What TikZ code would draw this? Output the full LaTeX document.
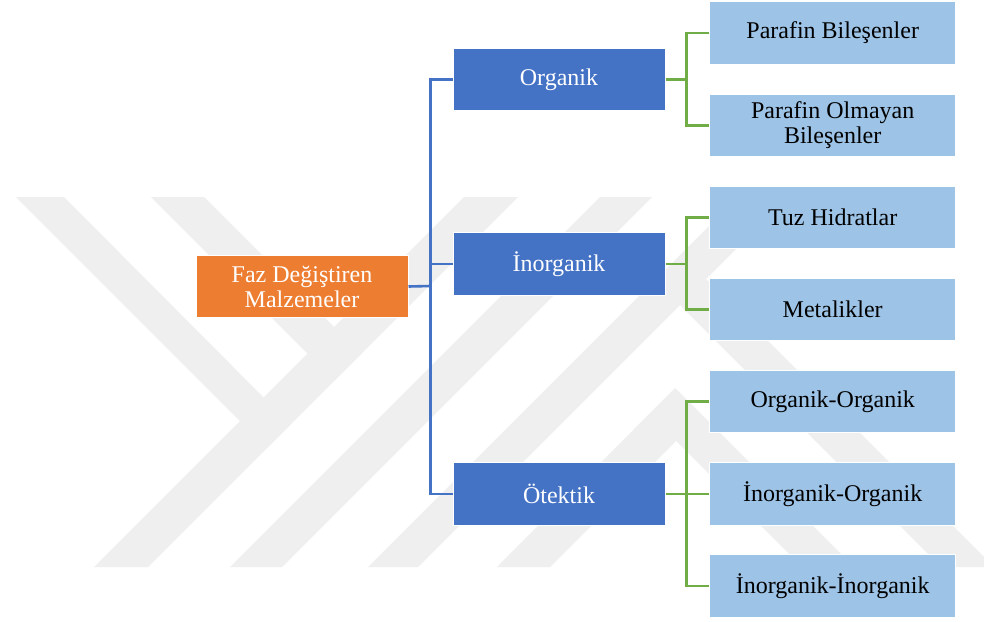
\documentclass[tikz,border=0pt]{standalone}
\usepackage{fontspec}
\setmainfont{Liberation Serif}
\usetikzlibrary{calc}
\definecolor{fdmorange}{HTML}{ED7D31}
\definecolor{grpblue}{HTML}{4472C4}
\definecolor{subblue}{HTML}{9DC3E6}
\definecolor{linkgreen}{HTML}{70AD47}
\definecolor{wmgray}{HTML}{EFEFEF}
\tikzset{
	box/.style={draw=white, line width=1pt, inner sep=0pt, align=center, minimum height=62.5pt, font=\fontsize{24}{25}\selectfont},
	mainbox/.style={box, fill=fdmorange, text=white, minimum width=212pt},
	grpbox/.style={box, fill=grpblue, text=white, minimum width=212pt},
	subbox/.style={box, fill=subblue, text=black, minimum width=245.5pt},
	bluelink/.style={grpblue, line width=2.6pt},
	greenlink/.style={linkgreen, line width=2.6pt}
}

\begin{document}
\begin{tikzpicture}[x=1pt, y=-1pt]
		%%%%% START %%%%%
		\useasboundingbox (0, 0) rectangle (984, 621);
		\fill[white] (0, 0) rectangle (984, 621);
		
		% watermark
		\begin{scope}
			\clip (0, 0) rectangle (984, 621);
			\fill[wmgray] (94, 567) -- (148, 567) -- (518, 197) -- (464, 197) -- cycle;
			\fill[wmgray] (16, 197) -- (64, 197) -- (290.5, 424.5) -- (267, 448) -- cycle;
			\fill[wmgray] (151, 197) -- (204, 197) -- (361, 354) -- (334.5, 380.5) -- cycle;
			\fill[wmgray] (230, 567) -- (282, 567) -- (652, 197) -- (600, 197) -- cycle;
			\fill[wmgray] (368, 567) -- (418, 567) -- (788, 197) -- (738, 197) -- cycle;
			\fill[wmgray] (497, 567) -- (550, 567) -- (676, 441) -- (802, 567) -- (854, 567) -- (675, 388) -- cycle;
			\fill[wmgray] (680, 305) -- (706, 279) -- (994, 567) -- (941, 567) -- cycle;
		\end{scope}
		
		\node[mainbox] (fdm) at (302, 286.5) {Faz Değiştiren\\Malzemeler};
		
		\node[grpbox] (org) at (559, 79.5) {Organik};
		\node[grpbox] (ino) at (559, 264) {İnorganik};
		\node[grpbox] (ote) at (559, 494) {Ötektik};
		
		\node[subbox] (pb) at (832.7, 33) {Parafin Bileşenler};
		\node[subbox] (pob) at (832.7, 125.5) {Parafin Olmayan\\Bileşenler};
		\node[subbox] (tuz) at (832.7, 217.5) {Tuz Hidratlar};
		\node[subbox] (met) at (832.7, 309.5) {Metalikler};
		\node[subbox] (oo) at (832.7, 401.5) {Organik-Organik};
		\node[subbox] (io) at (832.7, 494) {İnorganik-Organik};
		\node[subbox] (ii) at (832.7, 586) {İnorganik-İnorganik};
		
		\coordinate (bj) at (430.3, 286);
		\draw[bluelink] (fdm.east) -- (bj);
		\draw[bluelink] (org.west) -| (bj) |- (ote.west);
		\draw[bluelink] (ino.west) -- (ino.west -| bj);
		
		\draw[greenlink] (org.east) -- ++(22, 0);
		\draw[greenlink] (pb.west) -- ++(-23, 0) |- (pob.west);
		\draw[greenlink] (ino.east) -- ++(22, 0);
		\draw[greenlink] (tuz.west) -- ++(-23, 0) |- (met.west);
		\draw[greenlink] (ote.east) -- (io.west);
		\draw[greenlink] (oo.west) -- ++(-23, 0) |- (ii.west);
		%%%%% END %%%%%
	\end{tikzpicture}
\end{document}
